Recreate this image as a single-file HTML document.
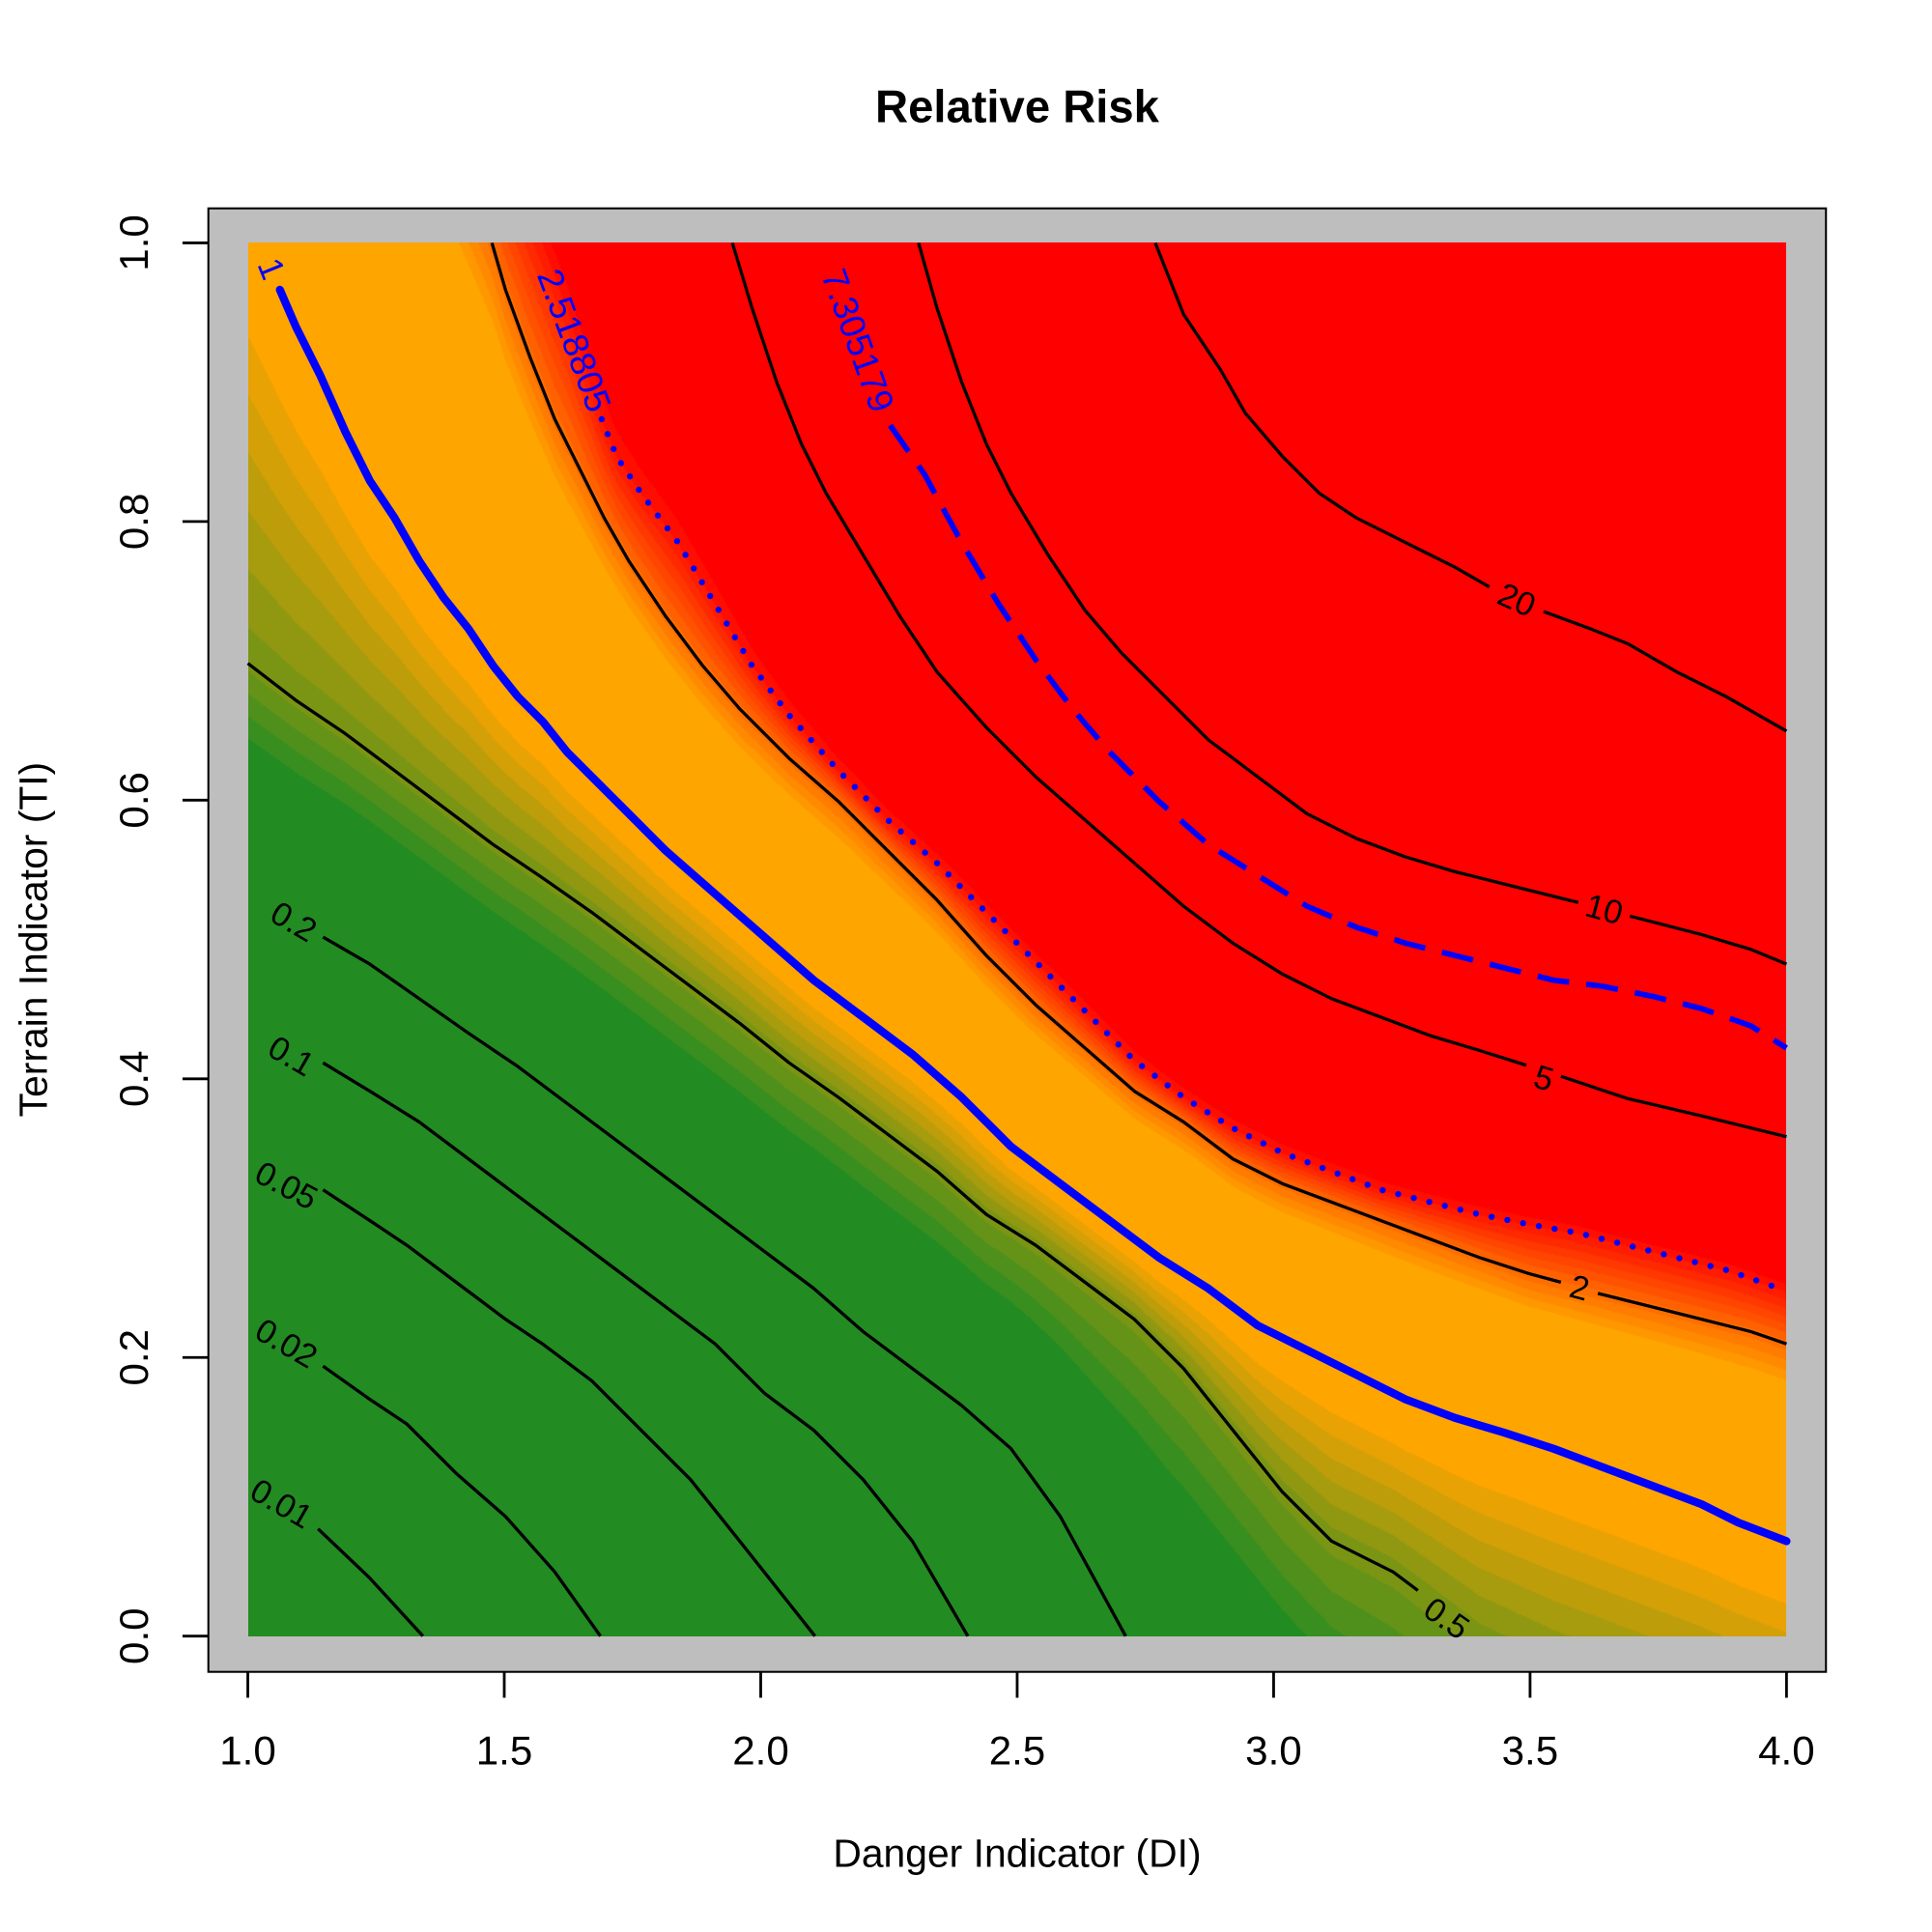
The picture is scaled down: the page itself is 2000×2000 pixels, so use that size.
<!DOCTYPE html>
<html><head><meta charset="utf-8"><style>
html,body{margin:0;padding:0;background:#fff;width:2000px;height:2000px;overflow:hidden}
svg,canvas{position:absolute;left:0;top:0}
#cv{left:256.5px;top:251.4px;width:1592.8px;height:1442.2px;}
text{font-family:"Liberation Sans",Arial,sans-serif}
</style></head><body>
<svg width="2000" height="2000" viewBox="0 0 1567 1567" style="z-index:0">
<rect x="169" y="169" width="1312" height="1187" fill="#bebebe" stroke="#000" stroke-width="1.6"/>
<g stroke="#000" stroke-width="2.2">
<line x1="201" y1="1356" x2="201" y2="1377"/><line x1="409" y1="1356" x2="409" y2="1377"/><line x1="617" y1="1356" x2="617" y2="1377"/><line x1="825" y1="1356" x2="825" y2="1377"/><line x1="1033" y1="1356" x2="1033" y2="1377"/><line x1="1241" y1="1356" x2="1241" y2="1377"/><line x1="1449" y1="1356" x2="1449" y2="1377"/>
<line x1="148" y1="1327" x2="169" y2="1327"/><line x1="148" y1="1101" x2="169" y2="1101"/><line x1="148" y1="875" x2="169" y2="875"/><line x1="148" y1="649" x2="169" y2="649"/><line x1="148" y1="423" x2="169" y2="423"/><line x1="148" y1="197" x2="169" y2="197"/>
</g>
<g font-size="33" text-anchor="middle">
<text x="201" y="1431">1.0</text><text x="409" y="1431">1.5</text><text x="617" y="1431">2.0</text><text x="825" y="1431">2.5</text><text x="1033" y="1431">3.0</text><text x="1241" y="1431">3.5</text><text x="1449" y="1431">4.0</text>
<text transform="translate(120,1327) rotate(-90)">0.0</text>
<text transform="translate(120,1101) rotate(-90)">0.2</text>
<text transform="translate(120,875) rotate(-90)">0.4</text>
<text transform="translate(120,649) rotate(-90)">0.6</text>
<text transform="translate(120,423) rotate(-90)">0.8</text>
<text transform="translate(120,197) rotate(-90)">1.0</text>
</g>
<text x="825" y="99" font-size="37" font-weight="bold" text-anchor="middle">Relative Risk</text>
<text x="825" y="1514" font-size="32" text-anchor="middle">Danger Indicator (DI)</text>
<text transform="translate(38,762) rotate(-90)" font-size="32" text-anchor="middle">Terrain Indicator (TI)</text>
</svg>
<canvas id="cv" width="1248" height="1130" style="z-index:1"></canvas>
<svg id="ov" width="2000" height="2000" viewBox="0 0 1567 1567" style="z-index:2"></svg>
<script>
var C=[
[Math.log(0.01),[[201,1200],[258,1240],[300,1280],[343,1327],[380,1380],[1449,2800]],[[[258,1240],[300,1280],[343,1327]]]],
[Math.log(0.02),[[201,1070],[262,1108],[300,1135],[330,1155],[370,1195],[410,1230],[450,1275],[487,1327],[520,1380],[1449,2600]],[[[262,1108],[300,1135],[330,1155],[370,1195],[410,1230],[450,1275],[487,1327]]]],
[Math.log(0.05),[[201,935],[262,965],[300,990],[330,1010],[370,1040],[410,1070],[440,1090],[480,1120],[520,1160],[560,1200],[600,1250],[661,1327],[700,1390],[1449,2400]],[[[262,965],[300,990],[330,1010],[370,1040],[410,1070],[440,1090],[480,1120],[520,1160],[560,1200],[600,1250],[661,1327]]]],
[Math.log(0.1),[[201,833],[262,862],[300,885],[340,910],[380,940],[420,970],[460,1000],[500,1030],[540,1060],[580,1090],[620,1130],[660,1160],[700,1200],[740,1250],[785,1327],[820,1390],[1449,2200]],[[[262,862],[300,885],[340,910],[380,940],[420,970],[460,1000],[500,1030],[540,1060],[580,1090],[620,1130],[660,1160],[700,1200],[740,1250],[785,1327]]]],
[Math.log(0.2),[[201,725],[262,760],[300,782],[340,810],[380,838],[420,865],[460,895],[500,925],[540,955],[580,985],[620,1015],[660,1045],[700,1080],[740,1110],[780,1140],[820,1175],[860,1230],[913,1327],[950,1390],[1449,2000]],[[[262,760],[300,782],[340,810],[380,838],[420,865],[460,895],[500,925],[540,955],[580,985],[620,1015],[660,1045],[700,1080],[740,1110],[780,1140],[820,1175],[860,1230],[913,1327]]]],
[Math.log(0.5),[[201,538],[240,568],[280,595],[320,625],[360,655],[400,685],[440,712],[480,740],[520,770],[560,800],[600,830],[640,862],[680,890],[720,920],[760,950],[800,985],[840,1010],[880,1040],[920,1070],[960,1110],[1000,1160],[1040,1210],[1080,1250],[1130,1275],[1150,1290],[1200,1330],[1260,1360],[1449,1430]],[[[201,538],[240,568],[280,595],[320,625],[360,655],[400,685],[440,712],[480,740],[520,770],[560,800],[600,830],[640,862],[680,890],[720,920],[760,950],[800,985],[840,1010],[880,1040],[920,1070],[960,1110],[1000,1160],[1040,1210],[1080,1250],[1130,1275],[1150,1290]]]],
[0,[[201,170],[227,235],[240,265],[260,305],[280,350],[300,390],[320,420],[340,455],[360,485],[380,510],[400,540],[420,565],[440,585],[460,610],[480,630],[500,650],[540,690],[580,725],[620,760],[660,795],[700,825],[740,855],[780,890],[820,930],[860,960],[900,990],[940,1020],[980,1045],[1020,1075],[1060,1095],[1100,1115],[1140,1135],[1180,1150],[1220,1162],[1260,1175],[1300,1190],[1340,1205],[1380,1220],[1410,1235],[1449,1250]],null],
[Math.log(2),[[201,-300],[300,-50],[360,100],[399,197],[410,235],[430,290],[450,340],[470,380],[490,420],[510,455],[540,500],[570,540],[600,575],[640,615],[680,650],[720,690],[760,730],[800,775],[840,815],[880,850],[920,885],[960,910],[1000,940],[1040,960],[1080,975],[1120,990],[1160,1005],[1200,1020],[1240,1035],[1300,1050],[1340,1060],[1380,1070],[1420,1080],[1449,1090]],[[[399,197],[410,235],[430,290],[450,340],[470,380],[490,420],[510,455],[540,500],[570,540],[600,575],[640,615],[680,650],[720,690],[760,730],[800,775],[840,815],[880,850],[920,885],[960,910],[1000,940],[1040,960],[1080,975],[1120,990],[1160,1005],[1200,1020],[1240,1033],[1266,1040]],[[1296,1049],[1340,1060],[1380,1070],[1420,1080],[1449,1090]]]],
[Math.log(2.518805),[[201,-350],[340,-50],[400,100],[440,197],[460,250],[475,300],[488,340],[500,370],[520,400],[550,440],[580,490],[610,540],[640,580],[680,625],[720,665],[760,700],[800,740],[840,780],[880,820],[920,860],[960,890],[1000,915],[1040,935],[1080,950],[1120,965],[1160,975],[1200,985],[1240,993],[1280,1000],[1320,1010],[1360,1020],[1400,1030],[1449,1047]],null],
[Math.log(5),[[201,-600],[480,-100],[560,100],[594,197],[610,250],[630,310],[650,360],[670,400],[700,450],[730,500],[760,545],[800,590],[840,630],[880,665],[920,700],[960,735],[1000,765],[1040,790],[1080,810],[1120,825],[1160,840],[1200,852],[1240,865],[1270,880],[1320,893],[1380,905],[1449,922]],[[[594,197],[610,250],[630,310],[650,360],[670,400],[700,450],[730,500],[760,545],[800,590],[840,630],[880,665],[920,700],[960,735],[1000,765],[1040,790],[1080,810],[1120,825],[1160,840],[1200,852],[1238,864]],[[1266,873],[1320,891],[1380,905],[1449,922]]]],
[Math.log(7.305179),[[201,-700],[560,-100],[640,100],[670,197],[690,260],[710,310],[722,345],[750,385],[780,440],[810,490],[840,535],[870,575],[900,610],[940,650],[980,685],[1020,710],[1060,735],[1100,752],[1140,765],[1180,775],[1220,785],[1260,795],[1300,800],[1340,808],[1380,818],[1420,832],[1449,850]],null],
[Math.log(10),[[201,-800],[640,-100],[720,100],[745,197],[760,250],[780,310],[800,360],[820,400],[850,450],[880,495],[910,530],[940,560],[980,600],[1020,630],[1060,660],[1100,680],[1140,695],[1180,707],[1220,717],[1260,727],[1330,745],[1380,758],[1420,770],[1449,782]],[[[745,197],[760,250],[780,310],[800,360],[820,400],[850,450],[880,495],[910,530],[940,560],[980,600],[1020,630],[1060,660],[1100,680],[1140,695],[1180,707],[1220,717],[1260,727],[1280,732]],[[1322,743],[1380,758],[1420,770],[1449,782]]]],
[Math.log(20),[[201,-1000],[800,-150],[900,100],[937,197],[960,255],[990,300],[1010,335],[1040,370],[1070,400],[1100,420],[1140,440],[1180,460],[1210,478],[1255,497],[1290,510],[1320,522],[1360,545],[1400,565],[1449,593]],[[[937,197],[960,255],[990,300],[1010,335],[1040,370],[1070,400],[1100,420],[1140,440],[1180,460],[1208,476]],[[1252,496],[1290,510],[1320,522],[1360,545],[1400,565],[1449,593]]]]
];
function yAt(pts,x){for(var i=0;i<pts.length-1;i++){if(x<=pts[i+1][0]){var a=pts[i],b=pts[i+1],t=(x-a[0])/(b[0]-a[0]);return a[1]+t*(b[1]-a[1]);}}return pts[pts.length-1][1];}
var G=[34,139,34],O=[255,165,0],R=[255,0,0];
function mix(a,b,t){return [a[0]+(b[0]-a[0])*t,a[1]+(b[1]-a[1])*t,a[2]+(b[2]-a[2])*t];}
function col(l){
 var g0=Math.log(0.37),g1=Math.log(0.9),o1=Math.log(1.7),r1=Math.log(2.6);
 if(l<=g0)return G;
 if(l<g1){var t=(l-g0)/(g1-g0);t=Math.ceil(t*10)/10;return mix(G,O,t);}
 if(l<=o1)return O;
 if(l<r1){var t=(l-o1)/(r1-o1);t=Math.floor(t*12)/12;return mix(O,R,t);}
 return R;}
try{
var cv=document.getElementById('cv'),ctx=cv.getContext('2d'),W=1248,H=1130;
var img=ctx.createImageData(W,H),d=img.data;
for(var px=0;px<W;px++){
 var x=201+px+0.5,ys=[];
 for(var k=0;k<C.length;k++)ys.push(yAt(C[k][1],x));
 for(var py=0;py<H;py++){
  var y=197+py+0.5,l;
  var k=0;while(k<C.length-2&&ys[k+1]>=y)k++;
  var y0=ys[k],y1=ys[k+1],v0=C[k][0],v1=C[k+1][0];
  var dy=(y1-y0);if(Math.abs(dy)<1e-6)dy=-1e-6;
  l=v0+(y-y0)/dy*(v1-v0);
  var c=col(l),i=(py*W+px)*4;
  d[i]=c[0];d[i+1]=c[1];d[i+2]=c[2];d[i+3]=255;}
}
ctx.putImageData(img,0,0);
}catch(e){}
var ov=document.getElementById('ov'),s='';
function pl(p){return p.map(function(q){return q[0]+','+q[1]}).join(' ');}
for(var k=0;k<C.length;k++){if(C[k][2])C[k][2].forEach(function(seg){s+='<polyline points="'+pl(seg)+'" fill="none" stroke="#000" stroke-width="2.6" stroke-linejoin="round"/>';});}
var one=C[6][1].slice(1);
s+='<polyline points="'+pl(one)+'" fill="none" stroke="#0000ff" stroke-width="6.5" stroke-linejoin="round" stroke-linecap="round"/>';
var dot=C[8][1].slice(6);
s+='<polyline points="'+pl(dot)+'" fill="none" stroke="#0000ff" stroke-width="5" stroke-dasharray="0 13" stroke-linecap="round"/>';
var dash=C[10][1].slice(6);
s+='<polyline points="'+pl(dash)+'" fill="none" stroke="#0000ff" stroke-width="4.5" stroke-dasharray="26 14"/>';
function lab(t,x,y,a,c,fs){s+='<text transform="translate('+x+','+y+') rotate('+a+')" font-size="'+fs+'" fill="'+c+'" text-anchor="middle" dominant-baseline="central" font-family="Liberation Sans, sans-serif">'+t+'</text>';}
lab('0.2',238,748,30,'#000',27);lab('0.1',236,857,30,'#000',27);lab('0.05',232,962,28,'#000',27);
lab('0.02',232,1090,30,'#000',27);lab('0.01',228,1220,30,'#000',27);lab('0.5',1173,1313,35,'#000',27);
lab('2',1281,1045,15,'#000',27);lab('5',1252,875,17,'#000',27);lab('10',1301,738,15,'#000',27);lab('20',1230,487,24,'#000',27);
lab('1',220,218,68,'#0000ff',28);
lab('2.518805',466,276,69.5,'#0000ff',29);lab('7.305179',696,276,70,'#0000ff',29);
ov.innerHTML=s;
</script>
</body></html>
